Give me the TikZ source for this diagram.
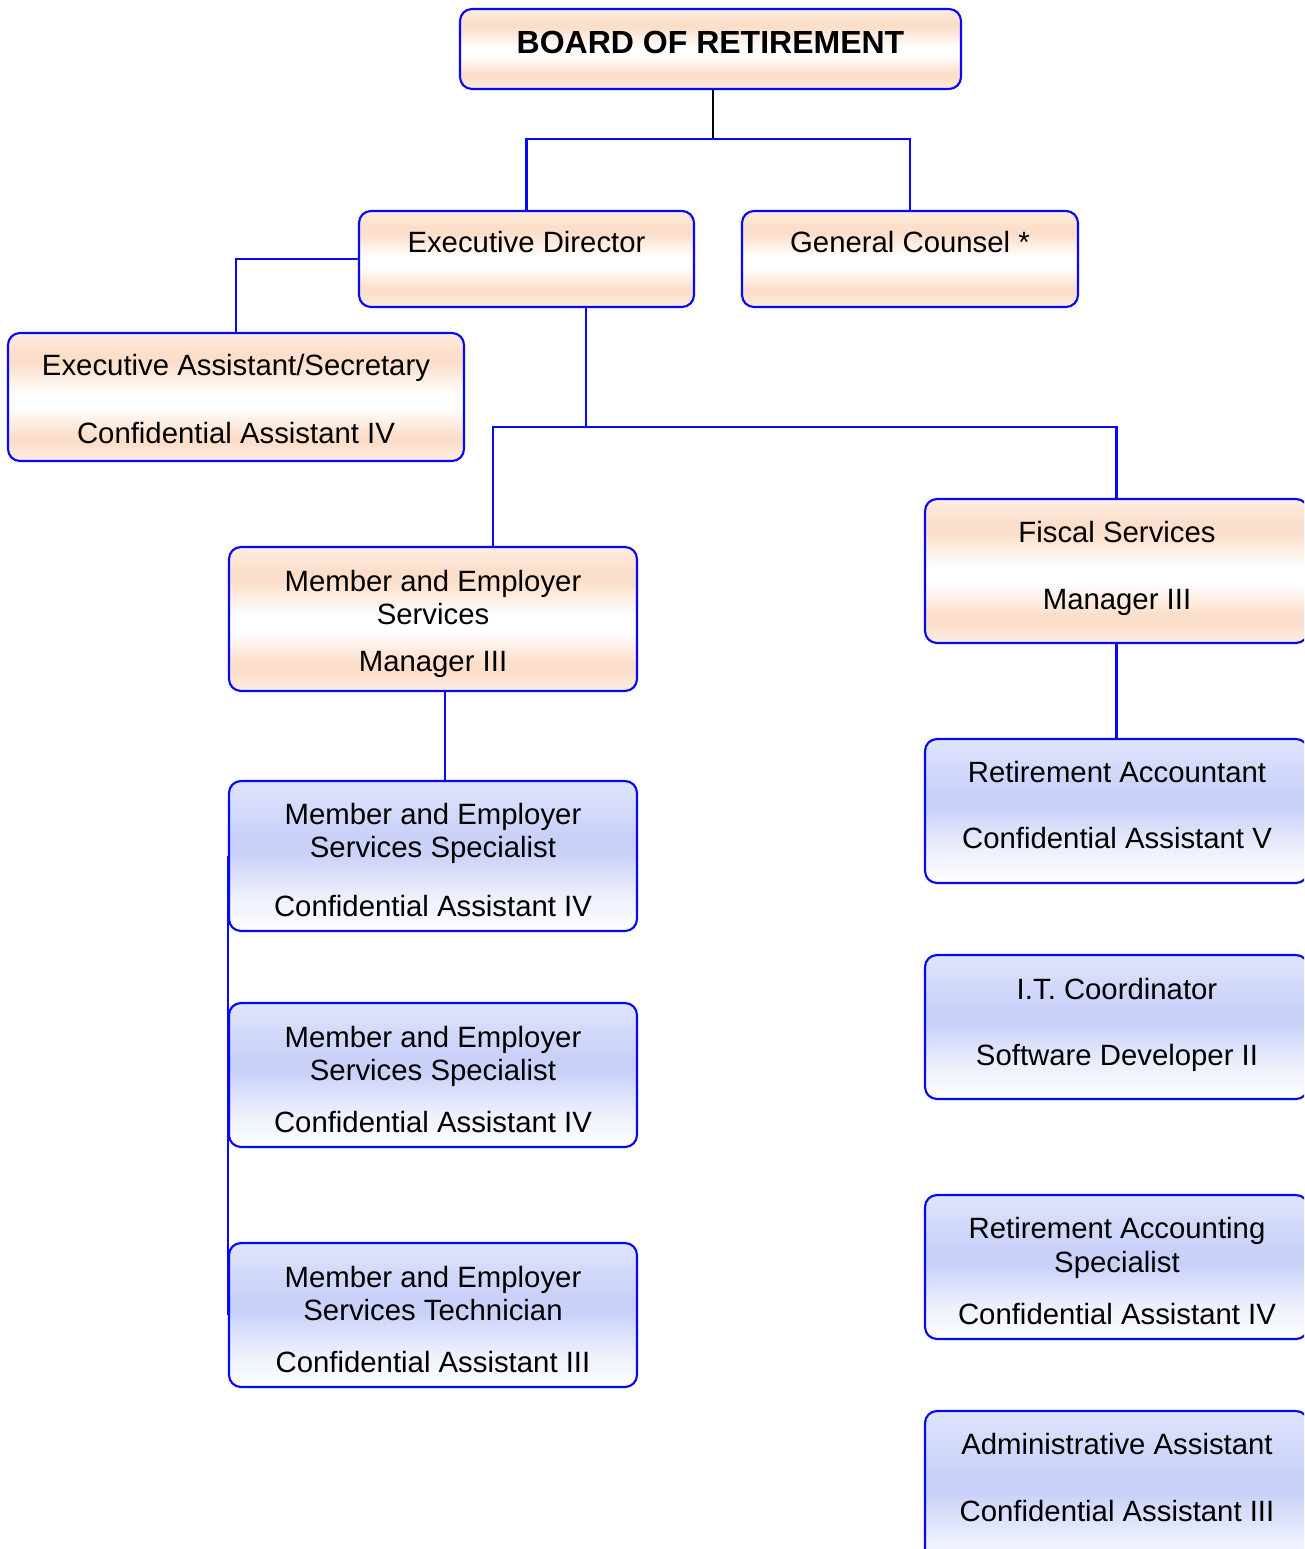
\documentclass[tikz,border=0pt]{standalone}
\usepackage{fontspec}
\setmainfont{Liberation Sans}
\usetikzlibrary{fit}
\definecolor{pk0}{HTML}{FEEDE1}
\definecolor{pk1}{HTML}{FCDFCB}
\definecolor{wh}{HTML}{FFFFFF}
\definecolor{bl0}{HTML}{DFE4FC}
\definecolor{bl1}{HTML}{CAD1F8}
\definecolor{bl2}{HTML}{ECEFFD}
\definecolor{lineblue}{HTML}{0808F8}
\pgfdeclareverticalshading{peachshade}{100bp}{color(0bp)=(pk0); color(25bp)=(pk0); color(32bp)=(pk1); color(35bp)=(pk1); color(46bp)=(wh); color(51bp)=(wh); color(63bp)=(pk1); color(67bp)=(pk1); color(75bp)=(pk0); color(100bp)=(pk0)}
\pgfdeclareverticalshading{blueshade}{100bp}{color(0bp)=(wh); color(25bp)=(wh); color(37bp)=(bl2); color(51bp)=(bl1); color(57bp)=(bl1); color(75bp)=(bl0); color(100bp)=(bl0)}
\tikzset{
  boxbase/.style={draw=lineblue, line width=1.6pt, rounded corners=9pt, inner sep=0pt, shading angle=0},
  peachbox/.style={boxbase, shading=peachshade},
  bluebox/.style={boxbase, shading=blueshade},
  txt/.style={anchor=base, inner sep=0pt, font=\fontsize{22pt}{24pt}\selectfont},
  ttl/.style={anchor=base, inner sep=0pt, font=\fontsize{24pt}{28pt}\selectfont\bfseries},
  conn/.style={draw=lineblue, line width=1.6pt},
  blk/.style={draw=black, line width=1.2pt}
}
\begin{document}
\begin{tikzpicture}[x=0.75pt,y=-0.75pt]
\clip (0,0) rectangle (1304,1549);
\fill[white] (0,0) rectangle (1304,1549);

\coordinate (j1) at (713,139);
\coordinate (j2) at (586,427);
\coordinate (j3) at (493,427);
\coordinate (j4) at (445,736);

% boxes
\node[peachbox, fit={(460,9) (961,89)}] (board) {};
\node[peachbox, fit={(359,211) (694,307)}] (ed) {};
\node[peachbox, fit={(742,211) (1078,307)}] (gc) {};
\node[peachbox, fit={(8,333) (464,461)}] (ea) {};
\node[peachbox, fit={(229,547) (637,691)}] (mgr) {};
\node[peachbox, fit={(925,499) (1308,643)}] (fiscal) {};
\node[bluebox, fit={(229,781) (637,931)}] (spec1) {};
\node[bluebox, fit={(229,1003) (637,1147)}] (spec2) {};
\node[bluebox, fit={(229,1243) (637,1387)}] (tech) {};
\node[bluebox, fit={(925,739) (1308,883)}] (racc) {};
\node[bluebox, fit={(925,955) (1308,1099)}] (itc) {};
\node[bluebox, fit={(925,1195) (1308,1339)}] (ras) {};
\node[bluebox, fit={(925,1411) (1308,1580)}] (adm) {};

% connectors
\draw[blk] (board.south -| j1) -- (j1);
\draw[conn] (ed.north) |- (j1) -| (gc.north);
\draw[conn] (ed.west) -| (ea.north);
\draw[conn] (ed.south -| j2) -- (j2);
\draw[conn] (j3 |- mgr.north) -- (j3) -- (j3 -| fiscal.north) -- (fiscal.north);
\draw[conn] (j4 |- mgr.south) -- (j4 |- spec1.north);
\draw[conn] (spec1.west) -- (tech.west);
\draw[conn] (fiscal.south) -- (racc.north);

% texts
\node[ttl] (board-t) at (710.5,53) {BOARD OF RETIREMENT};
\node[txt] (ed-t) at (526.5,252) {Executive Director};
\node[txt] (gc-t) at (910,252) {General Counsel *};
\node[txt] (ea-t1) at (236,375) {Executive Assistant/Secretary};
\node[txt] (ea-t2) at (236,443) {Confidential Assistant IV};
\node[txt] (mgr-t1) at (433,591) {Member and Employer};
\node[txt] (mgr-t2) at (433,624) {Services};
\node[txt] (mgr-t3) at (433,671) {Manager III};
\node[txt] (fis-t1) at (1117,542) {Fiscal Services};
\node[txt] (fis-t2) at (1117,609) {Manager III};
\node[txt] (s1-t1) at (433,824) {Member and Employer};
\node[txt] (s1-t2) at (433,857) {Services Specialist};
\node[txt] (s1-t3) at (433,916) {Confidential Assistant IV};
\node[txt] (s2-t1) at (433,1047) {Member and Employer};
\node[txt] (s2-t2) at (433,1080) {Services Specialist};
\node[txt] (s2-t3) at (433,1132) {Confidential Assistant IV};
\node[txt] (te-t1) at (433,1287) {Member and Employer};
\node[txt] (te-t2) at (433,1320) {Services Technician};
\node[txt] (te-t3) at (433,1372) {Confidential Assistant III};
\node[txt] (ra-t1) at (1117,782) {Retirement Accountant};
\node[txt] (ra-t2) at (1117,848) {Confidential Assistant V};
\node[txt] (it-t1) at (1117,999) {I.T. Coordinator};
\node[txt] (it-t2) at (1117,1065) {Software Developer II};
\node[txt] (rs-t1) at (1117,1238) {Retirement Accounting};
\node[txt] (rs-t2) at (1117,1272) {Specialist};
\node[txt] (rs-t3) at (1117,1324) {Confidential Assistant IV};
\node[txt] (ad-t1) at (1117,1454) {Administrative Assistant};
\node[txt] (ad-t2) at (1117,1521) {Confidential Assistant III};
\end{tikzpicture}
\end{document}
